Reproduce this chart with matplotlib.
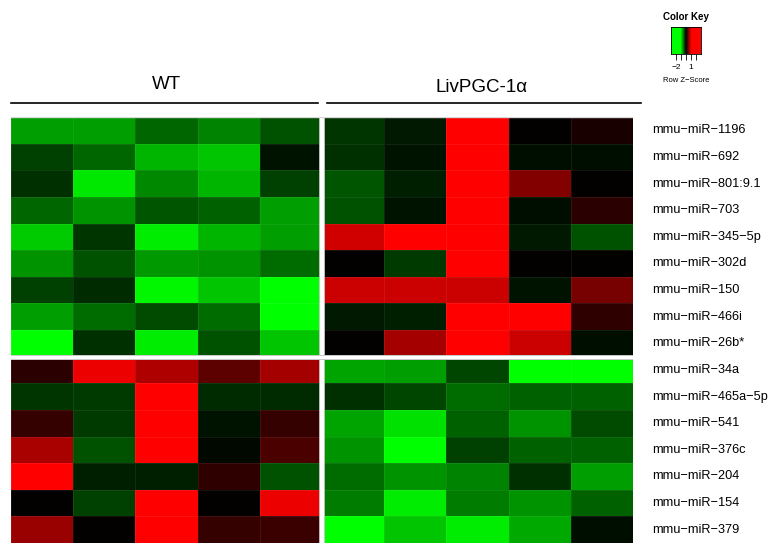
import numpy as np
import matplotlib.pyplot as plt
from matplotlib.colors import LinearSegmentedColormap

plt.rcParams['font.family'] = ['Liberation Sans', 'DejaVu Sans']

# miRNA rows (top to bottom) and the two sample groups
mirnas = ["mmu-miR-1196", "mmu-miR-692", "mmu-miR-801:9.1", "mmu-miR-703",
          "mmu-miR-345-5p", "mmu-miR-302d", "mmu-miR-150", "mmu-miR-466i",
          "mmu-miR-26b*", "mmu-miR-34a", "mmu-miR-465a-5p", "mmu-miR-541",
          "mmu-miR-376c", "mmu-miR-204", "mmu-miR-154", "mmu-miR-379"]
groups = ["WT", "LivPGC-1\u03b1"]

# row z-scores, 5 WT samples then 5 LivPGC-1a samples
wt = [
    [-0.66, -0.66, -0.44, -0.55, -0.33],
    [-0.28, -0.44, -0.77, -0.83, -0.09],
    [-0.20, -0.97, -0.57, -0.77, -0.28],
    [-0.44, -0.61, -0.36, -0.42, -0.66],
    [-0.86, -0.22, -0.99, -0.77, -0.66],
    [-0.61, -0.33, -0.64, -0.61, -0.46],
    [-0.28, -0.17, -1.05, -0.83, -1.50],
    [-0.66, -0.46, -0.31, -0.46, -1.50],
    [-1.50, -0.20, -0.99, -0.35, -0.83],
    [0.17, 1.00, 0.74, 0.39, 0.68],
    [-0.22, -0.24, 1.60, -0.18, -0.18],
    [0.22, -0.24, 1.60, -0.09, 0.22],
    [0.72, -0.35, 1.60, -0.03, 0.31],
    [1.50, -0.13, -0.13, 0.20, -0.33],
    [0.00, -0.28, 1.60, 0.00, 0.99],
    [0.64, 0.00, 1.60, 0.22, 0.24],
]
liv = [
    [-0.22, -0.11, 1.60, 0.00, 0.11],
    [-0.20, -0.09, 1.60, -0.05, -0.07],
    [-0.36, -0.13, 1.60, 0.55, 0.00],
    [-0.33, -0.08, 1.60, -0.05, 0.17],
    [0.88, 1.50, 1.60, -0.11, -0.33],
    [0.02, -0.24, 1.60, 0.00, 0.00],
    [0.86, 0.86, 0.86, -0.09, 0.50],
    [-0.11, -0.13, 1.60, 1.50, 0.19],
    [0.02, 0.69, 1.60, 0.86, -0.06],
    [-0.69, -0.66, -0.30, -1.50, -1.50],
    [-0.19, -0.30, -0.46, -0.41, -0.41],
    [-0.69, -0.94, -0.41, -0.63, -0.31],
    [-0.63, -1.50, -0.28, -0.41, -0.42],
    [-0.46, -0.61, -0.55, -0.20, -0.66],
    [-0.53, -0.99, -0.53, -0.61, -0.42],
    [-1.50, -0.83, -0.99, -0.72, -0.06],
]
key_ticks = [-2, -1, 0, 1, 2]
key_labels = ["\u22122", "", "", "1", ""]

z = np.hstack([np.array(wt), np.array(liv)])
vmin, vmax = -3, 3

cmap = LinearSegmentedColormap.from_list(
    "gbr", [(0.0, "#00ff00"), (0.32, "#00ff00"), (0.5, "#000000"),
            (0.68, "#ff0000"), (1.0, "#ff0000")])

W, H = 775, 543
fig = plt.figure(figsize=(W / 100, H / 100), dpi=100)


def box(x0, y0, x1, y1):
    return [x0 / W, 1 - y1 / H, (x1 - x0) / W, (y1 - y0) / H]


# heatmap
ax = fig.add_axes(box(11, 117, 633, 543))
ax.pcolormesh(z, cmap=cmap, vmin=vmin, vmax=vmax,
              edgecolors=(1, 1, 1, 0.07), linewidth=0.6)
ax.set_xlim(0, z.shape[1])
ax.set_ylim(z.shape[0], 0)
ax.set_xticks([])
ax.set_yticks([])
for s in ax.spines.values():
    s.set_visible(False)

# group separators
ax.axvline(5, color="#c8c8c8", lw=4.2)
ax.axvline(5, color="white", lw=2.8)
ax.axhline(9, color="#c8c8c8", lw=3.6)
ax.axhline(9, color="white", lw=2.2)
ax.axhline(0, color="#d8d8d8", lw=1.0)

# row labels on the right (R draws the dashes as minus signs)
for i, name in enumerate(mirnas):
    ax.text(1.031, i + 0.5, name.replace("-", "\u2212"),
            transform=ax.get_yaxis_transform(),
            ha="left", va="center", fontsize=9.2)

# group headers with underlines
fig.text(166 / W, 1 - 85 / H, groups[0], ha="center", va="center", fontsize=13.5)
fig.text(482 / W, 1 - 87 / H, groups[1], ha="center", va="center", fontsize=13.5)
fig.add_artist(plt.Line2D([11 / W, 318 / W], [1 - 103 / H] * 2, color="black", lw=1.2))
fig.add_artist(plt.Line2D([327 / W, 641 / W], [1 - 103 / H] * 2, color="black", lw=1.2))

# colour key
kax = fig.add_axes(box(671, 27, 701, 54))
kax.imshow(np.linspace(vmin, vmax, 256)[None, :], aspect="auto", cmap=cmap,
           vmin=vmin, vmax=vmax, extent=(vmin, vmax, 0, 1))
kax.set_yticks([])
kax.set_xticks(key_ticks)
kax.set_xticklabels(key_labels, fontsize=6)
kax.tick_params(axis="x", length=4, width=0.6, pad=3)
for s in kax.spines.values():
    s.set_linewidth(0.6)
fig.text(686 / W, 1 - 17 / H, "Color Key", ha="center", va="center",
         fontsize=7, fontweight="bold")
fig.text(686 / W, 1 - 81 / H, "Row Z\u2212Score", ha="center", va="center", fontsize=5.5)

fig.savefig("out.png", dpi=100)
